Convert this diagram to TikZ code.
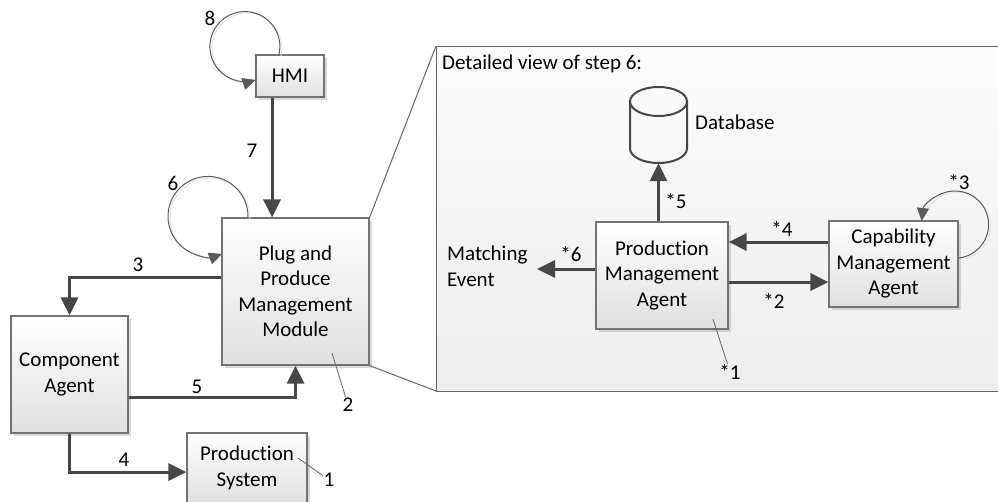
\documentclass[tikz,border=0pt]{standalone}
\usepackage{fontspec}
\setmainfont{Carlito}[Ligatures=NoCommon]
\usetikzlibrary{arrows.meta,shadows,calc}
\begin{document}
\begin{tikzpicture}[x=1pt,y=-1pt,
  font=\fontsize{21pt}{25.5pt}\selectfont,
  box/.style={draw=black!55, line width=1.2pt, top color=white, bottom color=black!12,
    align=center, inner sep=0pt,
    drop shadow={shadow xshift=3pt, shadow yshift=-3pt, fill=black!30, opacity=0.5}},
  arr/.style={draw=black!72, line width=3pt, -{Triangle[length=18pt,width=17pt]}},
  selfloop/.style={draw=black!65, line width=1pt, -{Triangle[length=13pt,width=12pt]}},
  loopshade/.style={draw=black!10, line width=1pt},
  leader/.style={draw=black!60, line width=0.8pt},
  fan/.style={draw=black!60, line width=1pt},
  lbl/.style={inner sep=0.5pt},
]
\useasboundingbox (0,0) rectangle (998,501);

% detail panel
\coordinate (ptl) at (436,46);
\coordinate (pbl) at (436,391);
\coordinate (pbr) at (1012,391);
\path[draw=black!60, line width=1pt, top color=black!1, bottom color=black!7] (ptl) rectangle (pbr);
\node[anchor=west, inner sep=0pt] (title) at (442,64) {Detailed view of step 6:};

% boxes
\node[box, minimum width=68pt, minimum height=42pt] (hmi) at (290,76) {HMI};
\node[box, minimum width=147pt, minimum height=147pt] (ppmm) at (295.5,291.5) {Plug and\\Produce\\Management\\Module};
\node[box, minimum width=117pt, minimum height=117pt] (ca) at (69.5,374.5) {Component\\Agent};
\node[box, minimum width=120pt, minimum height=70pt] (ps) at (247,468) {Production\\System};
\node[box, minimum width=132pt, minimum height=107pt] (pma) at (662,275.5) {Production\\Management\\Agent};
\node[box, minimum width=129pt, minimum height=86pt] (cma) at (893.5,264) {Capability\\Management\\Agent};

% fan lines to the detail panel
\draw[fan] (ppmm.north east) -- (ptl);
\draw[fan] (ppmm.south east) -- (pbl);

% database
\draw[line width=2pt, draw=black!72] (630,101.5) -- (630,148.5)
  arc[start angle=180, end angle=0, x radius=28.5, y radius=14.5] -- (687,101.5);
\draw[line width=2pt, draw=black!72] (658.5,101.5) ellipse [x radius=28.5, y radius=14.5];
\node[minimum width=57pt, minimum height=76pt, inner sep=0pt] (db) at (658.5,125) {};
\node[anchor=west, inner sep=0pt] (dbl) at (695,122) {Database};

\node[anchor=west, align=left, inner sep=0pt] (me) at (447,266.5) {Matching\\Event};

% thick arrows
\coordinate (h7) at ([xshift=-18pt]hmi.south);
\draw[arr] (h7) -- (h7 |- ppmm.north);
\coordinate (p3) at ([yshift=14.5pt]ppmm.west);
\draw[arr] (p3) -| (ca.north);
\coordinate (c5) at ([yshift=-22.5pt]ca.east);
\draw[arr] (c5) -| (ppmm.south);
\coordinate (s4) at ([yshift=-4pt]ps.west);
\draw[arr] (ca.south) |- (s4);
\draw[arr] (db.south |- pma.north) -- (db.south);
\coordinate (a4) at ([yshift=22pt]cma.west);
\draw[arr] (a4) -- (a4 -| pma.east);
\coordinate (a2) at ([yshift=-18pt]cma.west);
\draw[arr] (a2 -| pma.east) -- (a2);
\coordinate (e6) at (537,269);
\draw[arr] (pma.west |- e6) -- (e6);

% self loops
\draw[loopshade] ([xshift=-9pt,yshift=-1.5pt]hmi.north) arc[start angle=12.9, end angle=-280, radius=35];
\draw[selfloop] ([xshift=-11pt]hmi.north) arc[start angle=12.9, end angle=-288, radius=35];
\draw[loopshade] ([xshift=-45.5pt,yshift=-1.5pt]ppmm.north) arc[start angle=1.4, end angle=-282, radius=40];
\draw[selfloop] ([xshift=-47.5pt]ppmm.north) arc[start angle=1.4, end angle=-290.5, radius=40];
\draw[loopshade] ([xshift=2pt,yshift=4.5pt]cma.east) arc[start angle=83.8, end angle=-165, radius=33.6];
\draw[selfloop] ([yshift=6pt]cma.east) arc[start angle=83.8, end angle=-173.8, radius=33.6];

% labels
\node[lbl] (l8) at (210,18) {8};
\node[lbl] (l7) at (252,151) {7};
\node[lbl] (l6) at (173,183) {6};
\node[lbl] (l3) at (138,265) {3};
\node[lbl] (l5) at (197,387) {5};
\node[lbl] (l4) at (124,460) {4};
\node[lbl] (l2) at (348,405) {2};
\node[lbl] (l1) at (329,480) {1};
\node[lbl] (s5) at (676,201) {*5};
\node[lbl] (s4l) at (782,229) {*4};
\node[lbl] (s2) at (774,301) {*2};
\node[lbl] (s6) at (571,254) {*6};
\node[lbl] (s3) at (959,182) {*3};
\node[lbl] (s1) at (730,372) {*1};

% leader lines
\coordinate (q2) at (332,353);
\draw[leader] (q2) -- (l2);
\coordinate (q1) at (298,458);
\draw[leader] (q1) -- (l1);
\coordinate (qs1) at (713,319);
\draw[leader] (qs1) -- (s1);
\end{tikzpicture}
\end{document}
